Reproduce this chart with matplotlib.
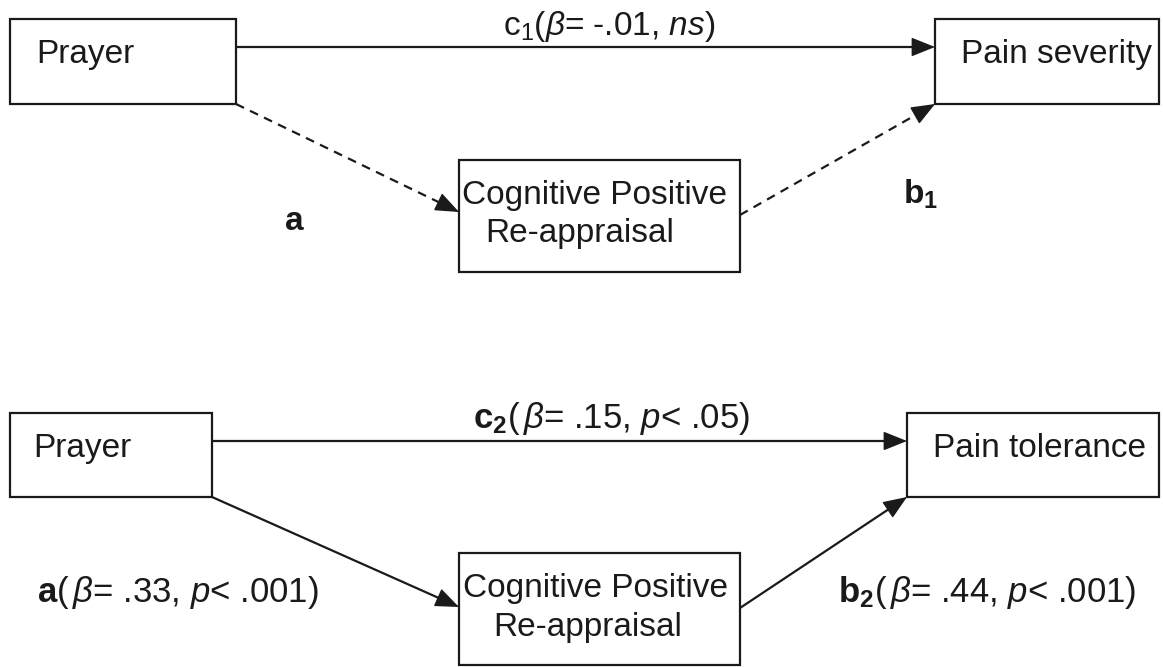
import numpy as np
import matplotlib
matplotlib.use('Agg')
import matplotlib.pyplot as plt
from matplotlib.patches import Rectangle

# variables in the two mediation models
predictor = 'Prayer'
mediator = 'Cognitive Positive\nRe-appraisal'
outcomes = ['Pain severity', 'Pain tolerance']

# standardized path coefficients
beta_c1 = -0.01
sig_c1 = 'ns'
beta_tolerance = [0.15, 0.33, 0.44]      # c2, a, b2
p_tolerance = ['.05', '.001', '.001']

plt.rcParams['font.family'] = 'Liberation Sans'
plt.rcParams['mathtext.fontset'] = 'custom'
plt.rcParams['mathtext.rm'] = 'Liberation Sans'
plt.rcParams['mathtext.it'] = 'Liberation Sans:italic'
plt.rcParams['mathtext.bf'] = 'Liberation Sans:bold'

ink = '#1a1a1a'
fs = 24
fs_lab = 25


def fmt(v):
    return f'{v:.2f}'.replace('0.', '.')


fig = plt.figure(figsize=(11.63, 6.67), dpi=100)
ax = fig.add_axes([0, 0, 1, 1])
ax.set_xlim(0, 1163)
ax.set_ylim(667, 0)
ax.axis('off')


def box(x0, y0, x1, y1):
    ax.add_patch(Rectangle((x0, y0), x1 - x0, y1 - y0, fill=False,
                           ec=ink, lw=1.6))


def arrow(p0, p1, dashed=False):
    p0 = np.array(p0, float)
    p1 = np.array(p1, float)
    d = (p1 - p0) / np.hypot(*(p1 - p0))
    ls = (0, (4, 3)) if dashed else '-'
    ax.plot([p0[0], p1[0] - d[0] * 10], [p0[1], p1[1] - d[1] * 10],
            color=ink, lw=1.6, ls=ls, solid_capstyle='butt')
    ax.annotate('', xy=p1, xytext=p1 - d * 22,
                arrowprops=dict(arrowstyle='-|>,head_length=1.5,head_width=0.6',
                                mutation_scale=10, lw=1.0, color=ink,
                                shrinkA=0, shrinkB=0))


# ---- upper model: pain severity ----
box(10, 19, 236, 104)
box(935, 19, 1159, 104)
box(459, 160, 740, 272)
ax.text(36, 63, predictor, fontsize=fs, color=ink)
ax.text(961, 63, outcomes[0], fontsize=fs, color=ink)
med = mediator.split('\n')
ax.text(462, 204, med[0], fontsize=fs, color=ink)
ax.text(485, 242, med[1], fontsize=fs, color=ink)

arrow((236, 47), (935, 47))
arrow((236, 104), (459, 212), dashed=True)
arrow((740, 215), (935, 104), dashed=True)

ax.text(609, 35, r'c$_1$($\mathit{β}$= ' + fmt(beta_c1) + ', $\\mathit{' + sig_c1 + '}$)',
        fontsize=fs, color=ink, ha='center')
ax.text(294, 230, 'a', fontsize=fs, color=ink, ha='center', fontweight='bold')
ax.text(903, 204, r'$\mathbf{b_1}$', fontsize=fs, color=ink)

# ---- lower model: pain tolerance ----
box(10, 413, 212, 497)
box(907, 413, 1159, 497)
box(459, 553, 740, 665)
ax.text(33, 457, predictor, fontsize=fs, color=ink)
ax.text(933, 457, outcomes[1], fontsize=fs, color=ink)
ax.text(463, 597, med[0], fontsize=fs, color=ink)
ax.text(493, 636, med[1], fontsize=fs, color=ink)

arrow((212, 441), (907, 441))
arrow((212, 497), (459, 607))
arrow((740, 608), (907, 497))

c2, a2, b2 = beta_tolerance
pc, pa, pb = p_tolerance
# leading dot kept as plain text so mathtext adds no gap after it
ax.text(612, 428, r'$\mathbf{c_2}$($\,\mathit{β}$= ' + fmt(c2) + r', $\mathit{p}$< .$\mathit{'
        + pc.lstrip('.') + '}$)', fontsize=fs_lab, color=ink, ha='center')
ax.text(37, 602, r'$\mathbf{a}$($\,\mathit{β}$= ' + fmt(a2) + r', $\mathit{p}$< ' + pa + ')',
        fontsize=fs_lab, color=ink)
ax.text(838, 602, r'$\mathbf{b_2}$($\,\mathit{β}$= ' + fmt(b2) + r', $\mathit{p}$< ' + pb + ')',
        fontsize=fs_lab, color=ink)

fig.savefig('out.png', dpi=100, facecolor='white')
